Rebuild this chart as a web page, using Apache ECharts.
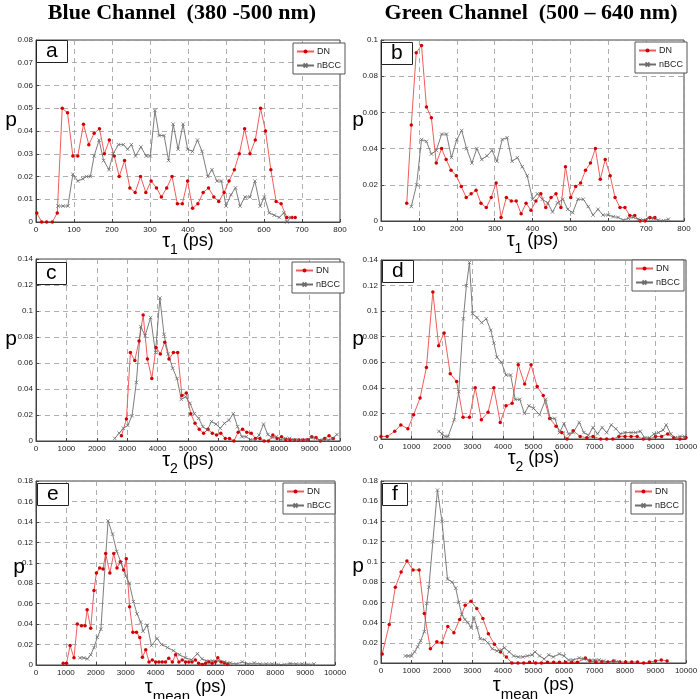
<!DOCTYPE html>
<html><head><meta charset="utf-8">
<script src="https://cdn.jsdelivr.net/npm/echarts@6/dist/echarts.min.js"></script>
<style>html,body{margin:0;padding:0;background:#fff}#c{width:700px;height:699px}</style>
</head><body><div id="c"></div>
<script>
// ---- data ----
const aDNx = [2,15,28,43,56,69,83,97,110,125,139,153,167,180,193,206,219,233,247,261,275,289,303,317,330,344,358,372,385,399,412,426,440,454,468,481,495,508,522,535,549,563,577,591,604,618,632,645,660,673,682];
const aDNy = [0.004,0,0,0,0.004,0.050,0.048,0.029,0.029,0.043,0.034,0.039,0.041,0.030,0.036,0.029,0.020,0.027,0.015,0.013,0.020,0.013,0.018,0.015,0.011,0.015,0.020,0.008,0.008,0.018,0.006,0.008,0.013,0.015,0.011,0.009,0.013,0.018,0.023,0.030,0.041,0.030,0.036,0.050,0.040,0.023,0.009,0.008,0.002,0.002,0.002];
const aBx = [58,71,84,97,110,123,133,143,153,166,178,192,203,217,230,241,251,262,276,290,301,313,324,337,349,361,374,387,399,412,425,437,452,463,476,488,500,513,525,537,550,563,576,590,601,614,627,640,652,660,670];
const aBy = [0.007,0.007,0.007,0.021,0.018,0.019,0.020,0.020,0.029,0.036,0.027,0.023,0.030,0.034,0.034,0.032,0.034,0.029,0.033,0.029,0.029,0.049,0.038,0.038,0.027,0.043,0.032,0.043,0.032,0.031,0.036,0.031,0.020,0.023,0.018,0.018,0.007,0.012,0.015,0.007,0.011,0.011,0.018,0.007,0.011,0.004,0.003,0.002,0.004,0.000,0.002];

const bDNx = [68,80,93,107,120,133,146,160,172,185,199,212,225,238,251,264,278,291,304,317,331,344,357,370,383,396,409,422,435,449,462,475,487,501,514,527,540,553,566,579,592,605,618,631,644,657,670,684,697,710,723];
const bDNy = [0.0098,0.053,0.093,0.097,0.063,0.057,0.032,0.040,0.034,0.028,0.025,0.019,0.013,0.015,0.017,0.0098,0.0074,0.013,0.021,0.002,0.013,0.011,0.011,0.004,0.0098,0.006,0.011,0.015,0.0074,0.013,0.015,0.0074,0.030,0.013,0.019,0.021,0.028,0.032,0.040,0.023,0.034,0.025,0.013,0.0074,0.0074,0.003,0.003,0,0,0.002,0.002];
const bBx = [80,94,107,120,133,146,160,173,186,200,213,226,240,253,266,280,293,306,320,333,346,360,373,386,400,413,426,440,453,466,480,493,506,520,534,547,560,573,586,600,613,626,640,653,666,679,692,706,719,732,746,759];
const bBy = [0.008,0.020,0.045,0.044,0.037,0.039,0.048,0.048,0.035,0.045,0.050,0.040,0.032,0.040,0.034,0.036,0.039,0.033,0.045,0.046,0.033,0.035,0.030,0.025,0.012,0.015,0.012,0.010,0.005,0.010,0.012,0.0065,0.0046,0.012,0.012,0.008,0.0033,0.0065,0.0033,0.0033,0.0024,0.002,0.0005,0.0015,0.002,0.001,0.0005,0.0015,0.0013,0.0005,0.0002,0.001];

const cDNx = [2810,2975,3105,3250,3390,3525,3665,3810,3950,4090,4235,4375,4520,4660,4800,4945,5090,5230,5370,5515,5655,5800,5940,6080,6225,6365,6510,6650,6795,6935,7080,7220,7365,7505,7645,7790,7930,8075,8215,8355,8500,8640,8785,8925,9070,9210,9355,9495,9640,9780];
const cDNy = [0.004,0.017,0.068,0.062,0.077,0.097,0.063,0.048,0.072,0.067,0.076,0.063,0.068,0.068,0.035,0.037,0.021,0.0136,0.009,0.006,0.009,0.006,0.0046,0.006,0.002,0.002,0,0.0067,0.009,0.0067,0.006,0.002,0.002,0,0,0.0046,0.002,0.0033,0.001,0.001,0.0008,0.0008,0.0008,0.001,0.0033,0.0026,0,0.002,0.004,0.002];
const cBx = [2590,2735,2875,3020,3160,3300,3445,3590,3770,3930,4075,4210,4350,4495,4640,4780,4920,5065,5210,5350,5490,5635,5775,5920,6060,6200,6345,6490,6630,6770,6915,7055,7200,7340,7485,7625,7770,7910,8055,8200,8340,8480,8620,8765,8905,9045,9190,9330,9475,9620,9760,9900];
const cBy = [0.002,0.006,0.0098,0.012,0.0195,0.045,0.088,0.081,0.095,0.068,0.110,0.082,0.067,0.056,0.048,0.032,0.034,0.029,0.021,0.0175,0.011,0.0085,0.015,0.013,0.0098,0.0136,0.016,0.021,0.011,0.0033,0.0033,0.001,0.0008,0.0046,0.013,0.005,0.0026,0.0033,0.001,0.002,0.002,0.0008,0.0008,0.001,0.0008,0.0026,0.002,0.0008,0.001,0.0008,0.002,0.005];

const dDNx = [0,200,450,650,880,1070,1280,1490,1700,1890,2070,2270,2480,2690,2900,3090,3290,3510,3700,3910,4100,4300,4500,4710,4920,5120,5320,5530,5740,5930,6100,6300,6530,6750,6950,7200,7400,7600,7800,8000,8200,8400,8600,8800,9000,9200,9400,9600,9800,10000];
const dDNy = [0.002,0.002,0.006,0.011,0.008,0.019,0.032,0.056,0.115,0.073,0.083,0.051,0.045,0.017,0.017,0.040,0.015,0.021,0.040,0.013,0.026,0.028,0.058,0.043,0.058,0.041,0.034,0.016,0.010,0.005,0,0.0065,0.002,0.001,0.002,0,0,0,0.002,0.002,0.002,0.002,0,0,0.002,0.002,0.004,0.001,0,0.001];
const dBx = [1900,2000,2100,2200,2400,2550,2700,2800,2900,3000,3150,3300,3450,3600,3700,3800,3950,4100,4250,4400,4550,4700,4850,5000,5200,5400,5550,5700,5850,6000,6150,6300,6500,6650,6800,6950,7100,7250,7400,7550,7700,7850,8000,8200,8350,8500,8650,8800,8950,9100,9250,9350,9500,9650,9800,9950];
const dBy = [0.006,0.004,0.002,0.002,0.015,0.037,0.094,0.120,0.138,0.098,0.095,0.091,0.094,0.085,0.075,0.064,0.060,0.050,0.050,0.031,0.031,0.020,0.026,0.024,0.019,0.031,0.016,0.016,0.005,0.012,0.004,0.005,0.013,0.005,0.003,0.009,0.004,0.009,0.005,0.011,0.008,0.004,0.005,0.005,0.005,0.006,0.001,0.001,0.004,0.005,0.007,0.011,0.004,0.001,0.002,0.002];

const eDNx = [910,1020,1140,1270,1380,1520,1640,1710,1830,1940,2020,2130,2240,2330,2470,2600,2710,2820,2930,3020,3130,3240,3360,3470,3560,3670,3780,3890,4000,4110,4220,4330,4440,4560,4670,4780,4890,5000,5110,5220,5330,5440,5560,5670,5780,5890,6000,6080,6190,6300,6410];
const eDNy = [0.0016,0.0016,0.019,0.007,0.040,0.0385,0.0385,0.054,0.036,0.073,0.090,0.095,0.094,0.109,0.090,0.109,0.095,0.101,0.093,0.104,0.057,0.032,0.032,0.027,0.0075,0.015,0.003,0.005,0.003,0.003,0.003,0.003,0.0065,0.003,0.010,0.003,0.005,0.003,0.003,0.003,0.005,0.0016,0.0006,0.0016,0.003,0.0016,0.003,0.007,0.003,0.002,0.0006];
const eBx = [1470,1600,1720,1830,1940,2050,2170,2410,2560,2700,2850,3000,3120,3260,3380,3500,3580,3720,3860,4050,4200,4400,4600,4800,5000,5200,5400,5550,5700,5900,6100,6300,6500,6700,6900,7100,7300,7500,7700,7900,8100,8300,8500,8700,8900,9100,9300];
const eBy = [0.007,0.007,0.006,0.010,0.017,0.027,0.035,0.141,0.128,0.111,0.100,0.087,0.080,0.062,0.050,0.042,0.033,0.039,0.019,0.026,0.020,0.017,0.014,0.010,0.007,0.005,0.011,0.006,0.004,0.004,0.004,0.003,0.002,0.001,0.003,0.001,0.002,0.001,0.001,0.001,0.0005,0.0005,0.0015,0.001,0.001,0.0005,0.001];

const fDNx = [40,270,470,660,850,1050,1250,1420,1620,1830,2000,2190,2390,2580,2760,2950,3140,3340,3520,3720,3920,4110,4290,4490,4680,4870,5070,5260,5460,5660,5850,6050,6250,6440,6700,6850,7050,7240,7440,7630,7830,8020,8220,8410,8610,8800,9000,9190,9380];
const fDNy = [0.009,0.038,0.075,0.090,0.101,0.092,0.092,0.049,0.014,0.021,0.020,0.036,0.030,0.043,0.057,0.061,0.054,0.044,0.029,0.0185,0.011,0.006,0,0,0,0.0007,0,0,0.0007,0.0007,0.0007,0.0007,0.0007,0.0007,0.005,0.002,0.001,0.001,0.001,0.002,0.001,0.001,0.001,0.001,0,0.001,0.002,0.003,0.002];
const fBx = [800,900,1000,1100,1200,1300,1420,1500,1570,1700,1850,2000,2180,2330,2450,2550,2650,2750,2850,2950,3050,3150,3250,3400,3500,3650,3800,3950,4050,4200,4350,4500,4650,4800,4950,5050,5200,5350,5500,5650,5850,6000,6150,6300,6500,6650,6800,7000,7150,7300,7500,7650,7800];
const fBy = [0.007,0.007,0.007,0.011,0.016,0.022,0.031,0.059,0.075,0.120,0.171,0.140,0.083,0.080,0.074,0.060,0.048,0.043,0.040,0.035,0.045,0.035,0.024,0.023,0.020,0.014,0.012,0.013,0.015,0.011,0.007,0.006,0.006,0.007,0.008,0.011,0.007,0.004,0.008,0.006,0.009,0.007,0.003,0.003,0.005,0.004,0.003,0.003,0.003,0.002,0.001,0.002,0.001];

const seriesNames = ['DN', 'nBCC'];
const panelLetters = ['a','b','c','d','e','f'];
const channelTitles = ['Blue Channel  (380 -500 nm)', 'Green Channel  (500 \u2013 640 nm)'];
const xNames = ['{t|\u03c4}{s|1}{p| (ps)}','{t|\u03c4}{s|1}{p| (ps)}','{t|\u03c4}{s|2}{p| (ps)}','{t|\u03c4}{s|2}{p| (ps)}','{t|\u03c4}{m|mean}{p| (ps)}','{t|\u03c4}{m|mean}{p| (ps)}'];
const xMax = [800,800,10000,10000,10000,10000];
const xStep = [100,100,1000,1000,1000,1000];
const yMax = [0.08,0.1,0.14,0.14,0.18,0.18];
const yStep = [0.01,0.02,0.02,0.02,0.02,0.02];

// ---- layout ----
const grids = [
  {left:36, top:40, width:304, height:182},
  {left:381, top:40, width:303, height:181},
  {left:36, top:259, width:304, height:182},
  {left:381, top:260, width:305, height:179},
  {left:36, top:481, width:299, height:184},
  {left:381, top:481, width:305, height:182}
];
const boxPos = [[36,40],[381,42],[36,262],[382,260],[37,483],[382,483]];
const legPos = [[293,43],[635,42],[292,262],[632,260],[283,483],[631,483]];
const pGap = [19,17,19,17,11,17];
const pLineH = [null,null,null,null,12,12];
const xGap = [3,3,3,3,6,6];

const dnX = [aDNx,bDNx,cDNx,dDNx,eDNx,fDNx], dnY = [aDNy,bDNy,cDNy,dDNy,eDNy,fDNy];
const bX = [aBx,bBx,cBx,dBx,eBx,fBx], bY = [aBy,bBy,cBy,dBy,eBy,fBy];
const zip = (xs, ys) => xs.map((x, i) => [x, ys[i]]);

const FONT = 'Liberation Sans';
const xAxes = [], yAxes = [], series = [], legends = [], titles = [];
for (let i = 0; i < 6; i++) {
  xAxes.push({
    type:'value', gridIndex:i, min:0, max:xMax[i], interval:xStep[i],
    axisLine:{show:true, onZero:false, lineStyle:{color:'#444', width:1}},
    axisTick:{show:true, inside:true, length:3, lineStyle:{color:'#444'}},
    axisLabel:{fontSize:8, color:'#222', margin:4, fontFamily:FONT, formatter:v => String(v)},
    splitLine:{show:true, lineStyle:{color:'#999', type:[5,4], width:0.8}},
    name:xNames[i], nameLocation:'middle', nameGap:xGap[i], nameMoveOverlap:false,
    nameTextStyle:{fontFamily:FONT, color:'#000', rich:{
      t:{fontSize:20, fontFamily:FONT, verticalAlign:'middle'},
      s:{fontSize:14, fontFamily:FONT, padding:[18,0,0,0], verticalAlign:'middle'},
      m:{fontSize:15, fontFamily:FONT, padding:[18,0,0,0], verticalAlign:'middle'},
      p:{fontSize:18, fontFamily:FONT, verticalAlign:'middle'}
    }}
  });
  const pStyle = {fontSize:21, fontFamily:FONT, color:'#000', verticalAlign:'bottom'};
  if (pLineH[i]) pStyle.lineHeight = pLineH[i];
  yAxes.push({
    type:'value', gridIndex:i, min:0, max:yMax[i], interval:yStep[i],
    axisLine:{show:true, lineStyle:{color:'#444', width:1}},
    axisTick:{show:true, inside:true, length:3, lineStyle:{color:'#444'}},
    axisLabel:{fontSize:8, color:'#222', margin:3, fontFamily:FONT, formatter:v => String(v)},
    splitLine:{show:true, lineStyle:{color:'#999', type:[5,4], width:0.8}},
    name:'p', nameLocation:'middle', nameRotate:0, nameGap:pGap[i], nameMoveOverlap:false,
    nameTextStyle:pStyle
  });
  series.push({
    name:seriesNames[0], type:'line', xAxisIndex:i, yAxisIndex:i,
    data:zip(dnX[i], dnY[i]), symbol:'circle', symbolSize:3.5, showSymbol:true,
    lineStyle:{color:'#f25c5c', width:1}, itemStyle:{color:'#d00000', borderWidth:0},
    animation:false, silent:true
  });
  series.push({
    name:seriesNames[1], type:'line', xAxisIndex:i, yAxisIndex:i,
    data:zip(bX[i], bY[i]), symbol:'path://M0,0L10,10M10,0L0,10', symbolSize:3.5, showSymbol:true,
    lineStyle:{color:'#6e6e6e', width:0.9}, itemStyle:{color:'rgba(0,0,0,0)', borderColor:'#6e6e6e', borderWidth:0.8},
    animation:false, silent:true
  });
  legends.push({
    show:true, data:seriesNames, orient:'vertical', left:legPos[i][0], top:legPos[i][1],
    backgroundColor:'#fff', borderColor:'#555', borderWidth:1, padding:[4,4,4,3],
    itemGap:5, itemWidth:17, itemHeight:5, selectedMode:false,
    textStyle:{fontSize:9, fontFamily:FONT, color:'#222', padding:[0,0,0,-2]}
  });
  titles.push({
    text:panelLetters[i], left:boxPos[i][0], top:boxPos[i][1],
    backgroundColor:'#fff', borderColor:'#222', borderWidth:1, padding:[1,10,1,10],
    textStyle:{fontSize:21, fontWeight:'normal', fontFamily:FONT, color:'#000'}
  });
}

const chart = echarts.init(document.getElementById('c'), null, {renderer:'canvas'});
chart.setOption({
  animation:false,
  backgroundColor:'#fff',
  title:titles,
  legend:legends,
  grid:grids.map(g => Object.assign({show:true, borderColor:'#444', borderWidth:1, backgroundColor:'#fff', containLabel:false, outerBoundsMode:'none'}, g)),
  xAxis:xAxes, yAxis:yAxes, series:series,
  graphic:[
    {type:'text', x:182, y:2, style:{text:channelTitles[0], font:'bold 22px "Liberation Serif"', fill:'#000', align:'center', verticalAlign:'top'}},
    {type:'text', x:531, y:2, style:{text:channelTitles[1], font:'bold 22px "Liberation Serif"', fill:'#000', align:'center', verticalAlign:'top'}}
  ]
});
</script></body></html>
